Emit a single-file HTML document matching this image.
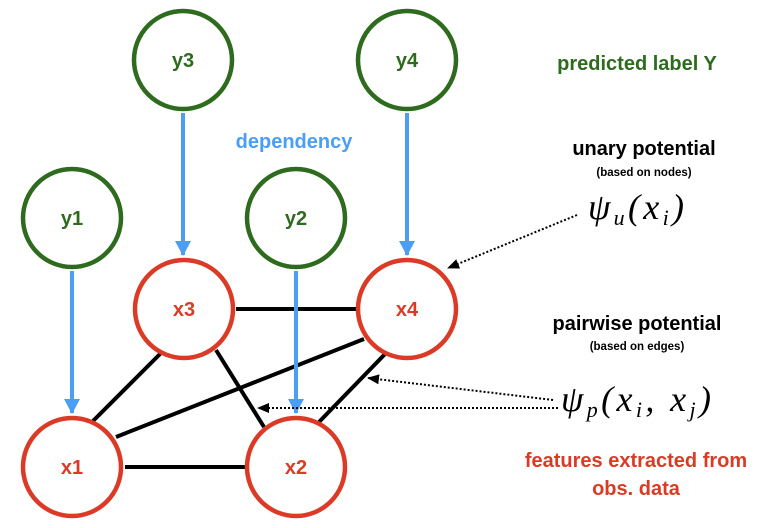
<!DOCTYPE html>
<html><head><style>
body{margin:0;background:#fff;}
svg{display:block;}
.b{font-family:"Liberation Sans",sans-serif;font-weight:bold;}
.m{font-family:"Liberation Serif",serif;font-style:italic;}
</style></head><body>
<svg width="778" height="528" viewBox="0 0 778 528" xmlns="http://www.w3.org/2000/svg">
<defs>
<marker id="ab" markerWidth="16" markerHeight="16" refX="14" refY="8" orient="auto" markerUnits="userSpaceOnUse"><path d="M0,0 L15,8 L0,16 z" fill="#4a9ff5"/></marker>
<marker id="ak" markerWidth="12" markerHeight="10" refX="11" refY="5" orient="auto" markerUnits="userSpaceOnUse"><path d="M0,0 L12,5 L0,10 z" fill="#000"/></marker>
</defs>
<g stroke="#000" stroke-width="4">
<line x1="236" y1="309" x2="359" y2="309"/>
<line x1="125" y1="467" x2="247" y2="467"/>
<line x1="162" y1="352" x2="93" y2="421"/>
<line x1="216" y1="350" x2="264" y2="427"/>
<line x1="364" y1="339" x2="116" y2="437"/>
<line x1="387" y1="352" x2="319" y2="422"/>
</g>
<g stroke="#4a9ff5" stroke-width="4" marker-end="url(#ab)">
<line x1="183" y1="113" x2="183" y2="255"/>
<line x1="407" y1="113" x2="407" y2="255"/>
<line x1="72" y1="271" x2="72" y2="413"/>
<line x1="296" y1="271" x2="296" y2="413"/>
</g>
<g stroke="#000" stroke-width="2" stroke-dasharray="2,2" fill="none" marker-end="url(#ak)">
<line x1="577" y1="215" x2="448" y2="268"/>
<line x1="553" y1="400" x2="368" y2="378"/>
<line x1="558" y1="408" x2="258" y2="408"/>
</g>
<g fill="#fff" stroke-width="4.5">
<circle cx="183" cy="60" r="49" stroke="#2e6b1f"/>
<circle cx="407" cy="60" r="49" stroke="#2e6b1f"/>
<circle cx="72" cy="218" r="49" stroke="#2e6b1f"/>
<circle cx="296" cy="218" r="49" stroke="#2e6b1f"/>
<circle cx="184" cy="309" r="49" stroke="#db3b26"/>
<circle cx="407" cy="309" r="49" stroke="#db3b26"/>
<circle cx="72" cy="467" r="49" stroke="#db3b26"/>
<circle cx="296" cy="467" r="49" stroke="#db3b26"/>
</g>
<g class="b" font-size="20" text-anchor="middle">
<text x="183" y="67" fill="#2e6b1f">y3</text>
<text x="407" y="67" fill="#2e6b1f">y4</text>
<text x="72" y="225" fill="#2e6b1f">y1</text>
<text x="296" y="225" fill="#2e6b1f">y2</text>
<text x="184" y="316" fill="#db3b26">x3</text>
<text x="407" y="316" fill="#db3b26">x4</text>
<text x="72" y="474" fill="#db3b26">x1</text>
<text x="296" y="474" fill="#db3b26">x2</text>
<text x="637" y="70" fill="#2e6b1f">predicted label Y</text>
<text x="294" y="148" fill="#4a9ff5">dependency</text>
<text x="644" y="155" fill="#000">unary potential</text>
<text x="637" y="330" fill="#000">pairwise potential</text>
<text x="636" y="467" fill="#db3b26">features extracted from</text>
<text x="636" y="495" fill="#db3b26">obs. data</text>
</g>
<g class="b" font-size="11.5" text-anchor="middle" fill="#000">
<text x="644" y="176">(based on nodes)</text>
<text x="637" y="350">(based on edges)</text>
</g>
<text class="m" x="588" y="219" font-size="36" textLength="96" lengthAdjust="spacing">ψ<tspan font-size="22" dy="6">u</tspan><tspan dy="-6">(x</tspan><tspan font-size="22" dy="6">i</tspan><tspan dy="-6">)</tspan></text>
<text class="m" x="561" y="411" font-size="36" textLength="150" lengthAdjust="spacing">ψ<tspan font-size="22" dy="6">p</tspan><tspan dy="-6">(x</tspan><tspan font-size="22" dy="6">i</tspan><tspan dy="-6">, x</tspan><tspan font-size="22" dy="6">j</tspan><tspan dy="-6">)</tspan></text>
</svg>
</body></html>
